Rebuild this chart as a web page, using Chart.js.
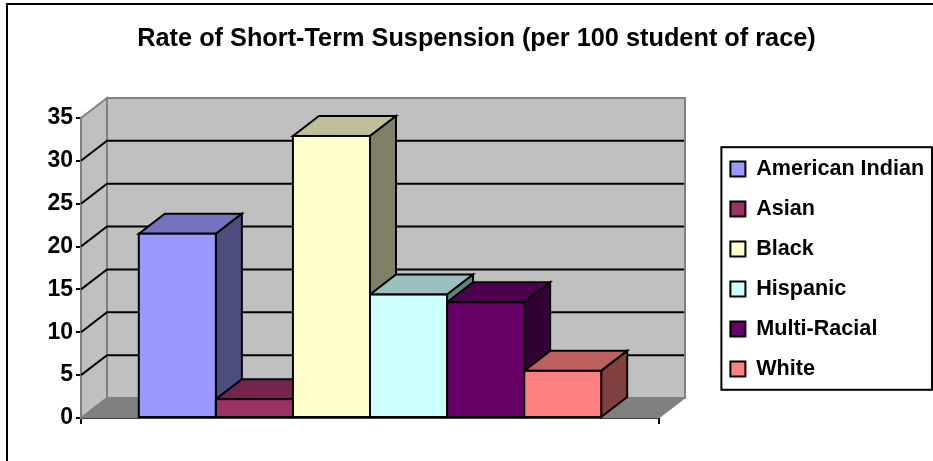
<!DOCTYPE html>
<html>
<head>
<meta charset="utf-8">
<style>
html, body { margin: 0; padding: 0; background: #fff; }
canvas { display: block; }
</style>
<script src="https://cdn.jsdelivr.net/npm/chart.js@4/dist/chart.umd.min.js"></script>
</head>
<body>
<canvas id="grafico" width="933" height="461"></canvas>
<script>
var titulo = 'Rate of Short-Term Suspension (per 100 student of race)';
var categorias = [''];
var grupos = ['American Indian', 'Asian', 'Black', 'Hispanic', 'Multi-Racial', 'White'];
var valores = [21.5, 2.2, 32.9, 14.4, 13.5, 5.5];
var colores = ['#9999FF', '#993366', '#FFFFCC', '#CCFFFF', '#660066', '#FF8080'];

var fuente = '"Liberation Sans", Arial, sans-serif';
var fondoX = 26, fondoY = 20;

function oscurecer(hex, f) {
	var n = parseInt(hex.slice(1), 16);
	var r = Math.round((n >> 16) * f), g = Math.round(((n >> 8) & 255) * f), b = Math.round((n & 255) * f);
	return 'rgb(' + r + ',' + g + ',' + b + ')';
}

function poligono(ctx, puntos, relleno, trazo, ancho) {
	ctx.beginPath();
	puntos.forEach(function (p, i) {
		if (i === 0) { ctx.moveTo(p[0], p[1]); } else { ctx.lineTo(p[0], p[1]); }
	});
	ctx.closePath();
	ctx.fillStyle = relleno;
	ctx.fill();
	ctx.lineWidth = ancho;
	ctx.strokeStyle = trazo;
	ctx.lineJoin = 'miter';
	ctx.stroke();
}

var marco3d = {
	id: 'marco3d',
	afterLayout: function (chart) {
		// el titulo y la leyenda no siguen al area del grafico
		chart.titleBlock.left = 20;
		chart.titleBlock.right = 933;
		var ley = chart.legend;
		var w = ley.right - ley.left;
		ley.left = 712;
		ley.right = ley.left + w;
		ley.top += 1;
		ley.bottom += 1;
	},
	beforeDraw: function (chart) {
		var ctx = chart.ctx;
		ctx.save();
		ctx.strokeStyle = '#000';
		ctx.lineWidth = 2;
		ctx.beginPath();
		ctx.moveTo(7, 461);
		ctx.lineTo(7, 4);
		ctx.lineTo(933, 4);
		ctx.stroke();
		ctx.restore();
	},
	beforeDatasetsDraw: function (chart) {
		var ctx = chart.ctx;
		var sx = chart.scales.x, sy = chart.scales.y;
		var izq = sx.left, der = sx.right;
		var abajo = sy.getPixelForValue(0), arriba = sy.getPixelForValue(35);
		ctx.save();
		// paredes y piso
		poligono(ctx, [[izq, arriba], [izq + fondoX, arriba - fondoY], [izq + fondoX, abajo - fondoY], [izq, abajo]], '#C0C0C0', '#808080', 2);
		poligono(ctx, [[izq + fondoX, arriba - fondoY], [der + fondoX, arriba - fondoY], [der + fondoX, abajo - fondoY], [izq + fondoX, abajo - fondoY]], '#C0C0C0', '#808080', 2);
		poligono(ctx, [[izq, abajo], [izq + fondoX, abajo - fondoY], [der + fondoX, abajo - fondoY], [der, abajo]], '#808080', '#808080', 1);
		// lineas de la grilla
		ctx.strokeStyle = '#000';
		ctx.lineWidth = 2;
		sy.ticks.forEach(function (t) {
			if (t.value === 0 || t.value === 35) { return; }
			var y = sy.getPixelForValue(t.value);
			ctx.beginPath();
			ctx.moveTo(izq, y);
			ctx.lineTo(izq + fondoX, y - fondoY);
			ctx.lineTo(der + fondoX - 1, y - fondoY);
			ctx.stroke();
		});
		// caras de arriba y laterales de cada barra
		grupos.forEach(function (g, i) {
			var barra = chart.getDatasetMeta(i).data[0];
			var l = barra.x - barra.width / 2, r = barra.x + barra.width / 2;
			poligono(ctx, [[l, barra.y], [l + fondoX, barra.y - fondoY], [r + fondoX, barra.y - fondoY], [r, barra.y]], oscurecer(colores[i], 0.75), '#000', 2);
			poligono(ctx, [[r, barra.y], [r + fondoX, barra.y - fondoY], [r + fondoX, barra.base - fondoY], [r, barra.base]], oscurecer(colores[i], 0.5), '#000', 2);
		});
		ctx.restore();
	},
	afterDatasetsDraw: function (chart) {
		// borde del frente, centrado para que las barras vecinas lo compartan
		var ctx = chart.ctx;
		ctx.save();
		ctx.strokeStyle = '#000';
		ctx.lineWidth = 2;
		grupos.forEach(function (g, i) {
			var barra = chart.getDatasetMeta(i).data[0];
			ctx.strokeRect(barra.x - barra.width / 2, barra.y, barra.width, barra.base - barra.y);
		});
		ctx.restore();
	},
	afterDraw: function (chart) {
		var ctx = chart.ctx;
		var cajas = chart.legend.legendHitBoxes;
		var primera = cajas[0], ultima = cajas[cajas.length - 1];
		ctx.save();
		ctx.strokeStyle = '#000';
		ctx.lineWidth = 2;
		ctx.strokeRect(primera.left - 9, primera.top - 11, 932 - primera.left + 9, ultima.top + ultima.height + 10 - primera.top + 11);
		ctx.restore();
	}
};

new Chart(document.getElementById('grafico').getContext('2d'), {
	type: 'bar',
	data: {
		labels: categorias,
		datasets: grupos.map(function (g, i) {
			return {
				label: g,
				data: [valores[i]],
				backgroundColor: colores[i],
				borderWidth: 0
			};
		})
	},
	options: {
		responsive: false,
		animation: false,
		barPercentage: 1,
		categoryPercentage: 0.8,
		layout: { padding: { left: 20, right: 61, top: 0, bottom: 0 } },
		plugins: {
			tooltip: { enabled: false },
			title: {
				display: true,
				text: titulo,
				color: '#000',
				font: { family: fuente, size: 25.3, weight: 'bold' },
				padding: { top: 24, bottom: 63.6 }
			},
			legend: {
				position: 'right',
				fullSize: false,
				labels: {
					color: '#000',
					font: { family: fuente, size: 21.6, weight: 'bold' },
					boxWidth: 15,
					boxHeight: 15,
					padding: 18.4,
					generateLabels: function (chart) {
						return Chart.defaults.plugins.legend.labels.generateLabels(chart).map(function (e) {
							e.strokeStyle = '#000';
							e.lineWidth = 2;
							return e;
						});
					}
				}
			}
		},
		scales: {
			x: {
				grid: { color: '#000', lineWidth: 2, tickLength: 6, drawOnChartArea: false },
				border: { color: '#000', width: 2 },
				ticks: { display: false },
				afterFit: function (eje) { eje.height = 43; }
			},
			y: {
				min: 0,
				max: 35,
				grid: { color: '#000', lineWidth: 2, tickLength: 5, drawOnChartArea: false },
				border: { color: '#000', width: 2 },
				ticks: {
					stepSize: 5,
					color: '#000',
					padding: 3,
					font: { family: fuente, size: 23, weight: 'bold' }
				},
				afterFit: function (eje) { eje.width = 61; }
			}
		}
	},
	plugins: [marco3d]
});
</script>
</body>
</html>
